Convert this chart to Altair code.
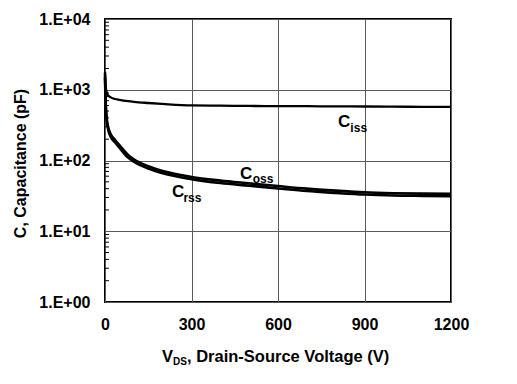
import altair as alt
import pandas as pd

# Drain-source voltage (V)
V = [0, 2, 5, 10, 20, 35, 50, 80, 100, 150, 200, 300, 400, 500, 600, 700, 800, 900, 1000, 1100, 1200]
# Capacitances (pF)
CISS = [1800, 1150, 950, 840, 780, 740, 720, 690, 675, 650, 630, 600, 595, 590, 588, 585, 582, 580, 577, 574, 572]
COSS = [1700, 750, 440, 310, 235, 195, 165, 120, 104, 83, 71, 58.5, 52, 47.5, 43.5, 40, 37.5, 35.5, 34.5, 34, 33.8]
CRSS = [1500, 650, 400, 285, 215, 180, 152, 110, 96, 77, 66, 54.5, 48, 44, 40.3, 37, 34.8, 33, 32, 31.6, 31.3]

Y_TICKS = [1, 10, 100, 1000, 10000]
X_TICKS = [0, 300, 600, 900, 1200]

# curve labels: main letter and subscript, anchored in data coordinates
LBL_MAIN = ["C", "C", "C"]
LBL_MAIN_V = [808, 468, 232]
LBL_MAIN_C = [297, 54.8, 30.5]
LBL_SUB = ["iss", "oss", "rss"]
LBL_SUB_V = [851, 512, 272]
LBL_SUB_C = [253, 48.1, 25.9]

FONT = "Liberation Sans"

rows = []
for name, vals, w in [("Ciss", CISS, 2.3), ("Coss", COSS, 2.6), ("Crss", CRSS, 2.6)]:
    for v, c in zip(V, vals):
        rows.append({"V": v, "C": c, "series": name, "w": w})
curves = pd.DataFrame(rows)

minor = pd.DataFrame({"C": [m * d for d in [1, 10, 100, 1000] for m in range(2, 10)]})

xscale = alt.Scale(domain=[0, 1200], nice=False)
yscale = alt.Scale(type="log", domain=[1, 10000], nice=False)

xaxis = alt.Axis(values=X_TICKS, title=None, ticks=False, domain=False, format="d",
                 labelPadding=14, labelFlush=False, labelOverlap=False,
                 labelFontSize=16, labelFontWeight="bold", labelColor="black",
                 grid=True, gridColor="#5a5a5a", gridWidth=1)
yaxis = alt.Axis(values=Y_TICKS, ticks=False, domain=False,
                 labelExpr="'1.E+0' + round(log(datum.value)/LN10)",
                 labelPadding=15, labelFlush=False, labelOverlap=False,
                 labelFontSize=16, labelFontWeight="bold", labelColor="black",
                 grid=True, gridColor="#5a5a5a", gridWidth=1,
                 title="C, Capacitance (pF)", titleFontSize=16,
                 titleFontWeight="bold", titleColor="black",
                 titleAngle=270, titleX=-80, titleY=144,
                 titleAlign="center", titleBaseline="alphabetic")

X = alt.X("V:Q", scale=xscale, axis=xaxis)
Y = alt.Y("C:Q", scale=yscale, axis=yaxis)

lines = alt.Chart(curves).mark_line(color="black", interpolate="monotone").encode(
    x=X, y=Y,
    detail="series:N",
    strokeWidth=alt.StrokeWidth("w:Q", scale=None, legend=None),
)

ticks = alt.Chart(minor).mark_rule(color="black", strokeWidth=1).encode(
    y=Y,
    x=alt.value(0),
    x2=alt.value(4),
)

main_df = pd.DataFrame({"t": LBL_MAIN, "V": LBL_MAIN_V, "C": LBL_MAIN_C})
sub_df = pd.DataFrame({"t": LBL_SUB, "V": LBL_SUB_V, "C": LBL_SUB_C})

main_txt = alt.Chart(main_df).mark_text(
    align="left", baseline="alphabetic", font=FONT, fontSize=17, fontWeight="bold", color="black"
).encode(x=X, y=Y, text="t:N")

sub_txt = alt.Chart(sub_df).mark_text(
    align="left", baseline="alphabetic", font=FONT, fontSize=12, fontWeight="bold", color="black"
).encode(x=X, y=Y, text="t:N")

# x axis title with subscript, built from text pieces
t1 = alt.Chart(pd.DataFrame({"t": ["V"]})).mark_text(
    align="left", baseline="alphabetic", font=FONT, fontSize=16.5, fontWeight="bold", color="black"
).encode(x=alt.value(57), y=alt.value(343), text="t:N")
t2 = alt.Chart(pd.DataFrame({"t": ["DS"]})).mark_text(
    align="left", baseline="alphabetic", font=FONT, fontSize=10, fontWeight="bold", color="black"
).encode(x=alt.value(68), y=alt.value(346), text="t:N")
t3 = alt.Chart(pd.DataFrame({"t": [", Drain-Source Voltage (V)"]})).mark_text(
    align="left", baseline="alphabetic", font=FONT, fontSize=16.5, fontWeight="bold", color="black"
).encode(x=alt.value(82), y=alt.value(343), text="t:N")

chart = alt.layer(lines, ticks, main_txt, sub_txt, t1, t2, t3).properties(
    width=346,
    height=283,
    autosize=alt.AutoSizeParams(type="none"),
    padding={"left": 97, "top": 11, "right": 50, "bottom": 70},
).configure(font=FONT, background="white").configure_view(
    stroke="black", strokeWidth=2
)

chart.save("out.html", embed_options={"renderer": "svg", "actions": False})
